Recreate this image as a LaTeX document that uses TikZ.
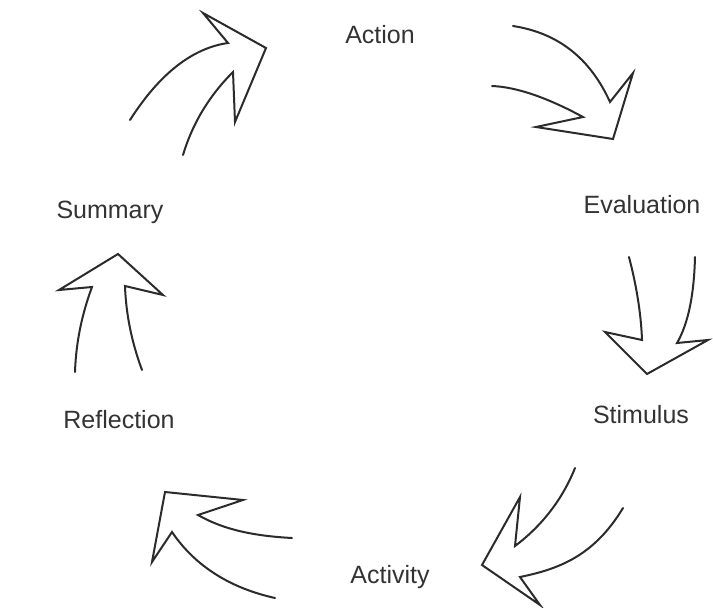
\documentclass[tikz,border=0pt]{standalone}
\usepackage{fontspec}
\setmainfont{Liberation Sans}
\usepackage{xcolor}
\usetikzlibrary{positioning}
\definecolor{ink}{HTML}{2B2B2B}
\definecolor{label}{HTML}{333333}
\tikzset{
  stage/.style ={font=\fontsize{25}{28}\selectfont, text=label, inner sep=0pt, anchor=base},
  blk/.style   ={draw=ink, line width=2pt, line join=miter, line cap=round, fill=none},
}

\begin{document}
\begin{tikzpicture}[x=1pt,y=-1pt]
  \useasboundingbox (0,0) rectangle (713,608);
  % stages of the cycle, clockwise from the top
  \node[stage] (action)     at (380,43)  {Action};
  \node[stage] (evaluation) at (642,213) {Evaluation};
  \node[stage] (stimulus)   at (641,423) {Stimulus};
  \node[stage] (activity)   at (390,583) {Activity};
  \node[stage] (reflection) at (119,428) {Reflection};
  \node[stage] (summary)    at (110,218) {Summary};

  % ---------------- hollow arrows: tail, barb, tip, barb, tail --------------
  % Summary -> Action
  \draw[blk] (130,120) .. controls (160,73) and (193,48) .. (228,43) -- (203,13) -- (266,48)
        -- (235,122) -- (233,72) .. controls (208,97) and (192,125) .. (183,155);
  % Action -> Evaluation
  \draw[blk] (513,26) .. controls (558,33) and (590,58) .. (610,102) -- (633,73) -- (613,139)
        -- (536,127) -- (583,117) .. controls (548,98) and (517,87) .. (492,86);
  % Evaluation -> Stimulus
  \draw[blk] (629,257) .. controls (636,284) and (641,312) .. (642,340) -- (605,332) -- (647,374)
        -- (708,340) -- (677,343) .. controls (688,324) and (694,296) .. (695,257);
  % Stimulus -> Activity
  \draw[blk] (575,468) .. controls (563,498) and (543,525) .. (515,546) -- (520,497) -- (482,565)
        -- (540,605) -- (520,577) .. controls (559,569) and (594,556) .. (623,508);
  % Activity -> Reflection
  \draw[blk] (292,538) .. controls (255,536) and (224,530) .. (198,515) -- (243,500) -- (165,492)
        -- (152,562) -- (172,532) .. controls (195,566) and (230,588) .. (275,598);
  % Reflection -> Summary
  \draw[blk] (75,372) .. controls (76,342) and (82,314) .. (92,287) -- (59,290) -- (118,254)
        -- (163,295) -- (125,286) .. controls (126,315) and (132,343) .. (142,370);
\end{tikzpicture}
\end{document}
